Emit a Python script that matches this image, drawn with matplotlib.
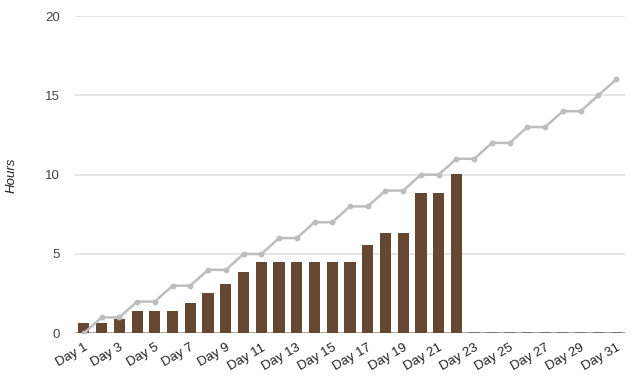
import numpy as np
import matplotlib.pyplot as plt

plt.rcParams['font.family'] = ['Liberation Sans', 'DejaVu Sans']

# data
days = [f"Day {i}" for i in range(1, 32)]
actual_hours = [0.65, 0.65, 0.88, 1.39, 1.39, 1.39, 1.89, 2.52, 3.09, 3.85,
                4.48, 4.48, 4.48, 4.48, 4.48, 4.48, 5.57, 6.31, 6.31, 8.83,
                8.83, 10.03, 0, 0, 0, 0, 0, 0, 0, 0, 0]
planned_hours = [0, 1, 1, 2, 2, 3, 3, 4, 4, 5,
                 5, 6, 6, 7, 7, 8, 8, 9, 9, 10,
                 10, 11, 11, 12, 12, 13, 13, 14, 14, 15, 16]
y_ticks = [0, 5, 10, 15, 20]

bar_color = '#654732'
line_color = '#bdbdbd'
text_color = '#444444'
bar_w = 0.63

fig = plt.figure(figsize=(6.33, 3.88), dpi=100)
ax = fig.add_axes([75 / 633, 54.7 / 388, 550 / 633, 317.3 / 388])

x = np.arange(len(days))
ax.bar(x, actual_hours, width=bar_w, color=bar_color, zorder=3)
ax.plot(x, planned_hours, color=line_color, linewidth=1.8, marker='o',
        markersize=3.2, zorder=4)

ax.set_xlim(-0.5, len(days) - 0.5)
ax.set_ylim(0, 20)
ax.set_yticks(y_ticks)
ax.yaxis.grid(True, color='#e0e0e0', linewidth=1.2, zorder=0)
ax.axhline(0, color='#9a9a9a', linewidth=1.2, zorder=2)

# zero-height bars show as a darker stroke on the baseline
zero = [i for i, v in enumerate(actual_hours) if v == 0]
ax.hlines([0] * len(zero), np.array(zero) - bar_w / 2, np.array(zero) + bar_w / 2,
          color='#6b6b6b', linewidth=1.2, zorder=3)

ax.set_xticks(x[::2])
ax.set_xticklabels(days[::2], rotation=30, ha='right', va='top',
                   rotation_mode='anchor', fontsize=9.5, color='#222222')
ax.tick_params(axis='x', length=0, pad=6)
ax.tick_params(axis='y', length=0, pad=11, labelsize=9.5, labelcolor=text_color)

for s in ax.spines.values():
    s.set_visible(False)

fig.text(12 / 633, 1 - 175 / 388, 'Hours', rotation=90, style='italic',
         fontsize=9.5, color='#222222', ha='center', va='center')

fig.savefig('out.png', dpi=100)
